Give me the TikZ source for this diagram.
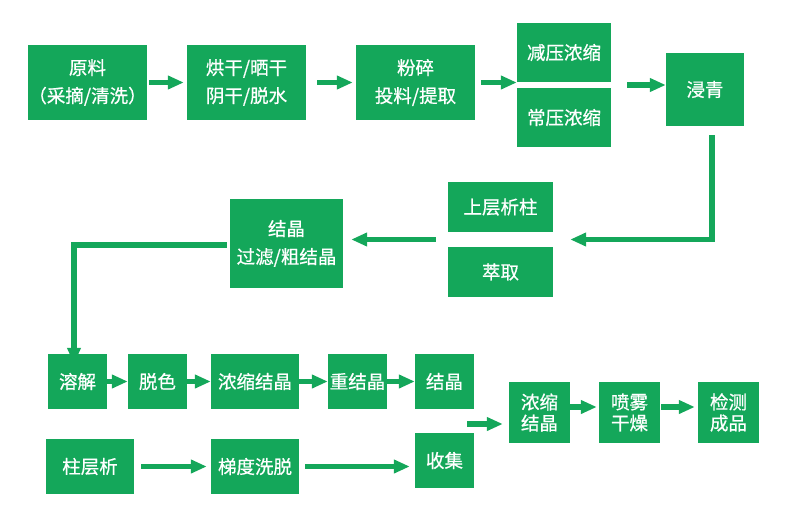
\documentclass[tikz,border=0pt]{standalone}
\usepackage{fontspec}
\setmainfont{Noto Sans CJK SC}[FakeBold=0.7]
\usetikzlibrary{arrows.meta,calc}
\definecolor{gr}{RGB}{20,167,90}
\tikzset{
  box/.style={fill=gr, text=white, inner sep=0pt, align=center, font=\fontsize{18.5}{28}\selectfont},
  tight/.style={font=\fontsize{18.5}{21}\selectfont},
  arr/.style={draw=gr, line width=5.5pt, line join=miter, -{Triangle[length=16pt,width=13pt]}},
}
\begin{document}
\begin{tikzpicture}[x=1pt,y=-1pt]
\useasboundingbox (0,0) rectangle (790,519);
% row 1
\node[box, minimum width=119, minimum height=75] (a) at (87.5,82.5) {原料\\（采摘/清洗）};
\node[box, minimum width=119, minimum height=75] (b) at (246.5,82.5) {烘干/晒干\\阴干/脱水};
\node[box, minimum width=119, minimum height=75] (c) at (415.5,82.5) {粉碎\\投料/提取};
\node[box, minimum width=94, minimum height=59] (c1) at (564,52.5) {减压浓缩};
\node[box, minimum width=94, minimum height=59] (c2) at (564,117.5) {常压浓缩};
\node[box, minimum width=78, minimum height=73] (d) at (705,89.5) {浸青};
% row 2
\node[box, minimum width=105, minimum height=50] (e1) at (500.5,207) {上层析柱};
\node[box, minimum width=105, minimum height=50] (e2) at (500.5,272) {萃取};
\node[box, minimum width=113, minimum height=89] (f) at (286.5,243.5) {结晶\\过滤/粗结晶};
% row 3
\node[box, minimum width=59, minimum height=55] (h1) at (77.5,381.5) {溶解};
\node[box, minimum width=59, minimum height=55] (h2) at (157.5,381.5) {脱色};
\node[box, minimum width=88, minimum height=55] (h3) at (255,381.5) {浓缩结晶};
\node[box, minimum width=59, minimum height=55] (h4) at (357.5,381.5) {重结晶};
\node[box, minimum width=59, minimum height=55] (h5) at (444.5,381.5) {结晶};
% row 4
\node[box, minimum width=88, minimum height=55] (i1) at (90,466.5) {柱层析};
\node[box, minimum width=88, minimum height=55] (i2) at (255,466.5) {梯度洗脱};
\node[box, minimum width=59, minimum height=55] (i3) at (444.5,460.5) {收集};
% right
\node[box, tight, minimum width=61, minimum height=61] (j) at (539.5,412.5) {浓缩\\结晶};
\node[box, tight, minimum width=61, minimum height=61] (k) at (629.5,412.5) {喷雾\\干燥};
\node[box, tight, minimum width=61, minimum height=61] (l) at (728.5,412.5) {检测\\成品};
% helper coordinates
\coordinate (cg) at ($(c1.south east)!0.5!(c2.north east)$);
\coordinate (eg) at ($(e1.south west)!0.5!(e2.north west)$);
\coordinate (eg2) at ($(e1.south east)!0.5!(e2.north east)$);
\coordinate (hg) at ($(h5.south east)!0.5!(i3.north east)$);
% arrows
\draw[arr] ([xshift=2]a.east) -- ([xshift=-3]b.west);
\draw[arr] ([xshift=11]b.east) -- ([xshift=-3]c.west);
\draw[arr] ([xshift=6]c.east) -- (c.east -| c1.west);
\draw[arr] ([xshift=16]cg) -- (cg -| d.west);
\draw[arr] ([xshift=7,yshift=-9]d.south) |- ([xshift=17]eg2);
\draw[arr] ([xshift=-12]eg) -- ([xshift=8]eg -| f.east);
\draw[arr] ([xshift=-3,yshift=-1.5]f.west) -| ([xshift=-3.5,yshift=-10]h1.north);
\draw[arr] (h1.east) -- (h2.west);
\draw[arr] (h2.east) -- (h3.west);
\draw[arr] (h3.east) -- (h4.west);
\draw[arr] (h4.east) -- (h5.west);
\draw[arr] ([xshift=7]i1.east) -- ([xshift=-4]i2.west);
\draw[arr] ([xshift=6]i2.east) -- ([xshift=-5]i2.east -| i3.west);
\draw[arr] ([xshift=-7,yshift=-3]hg) -- ([xshift=-6,yshift=-3]hg -| j.west);
\draw[arr] ([yshift=5.5]j.east) -- ([xshift=-2,yshift=5.5]k.west);
\draw[arr] ([xshift=1,yshift=5.5]k.east) -- ([xshift=-3,yshift=5.5]l.west);
\end{tikzpicture}
\end{document}
